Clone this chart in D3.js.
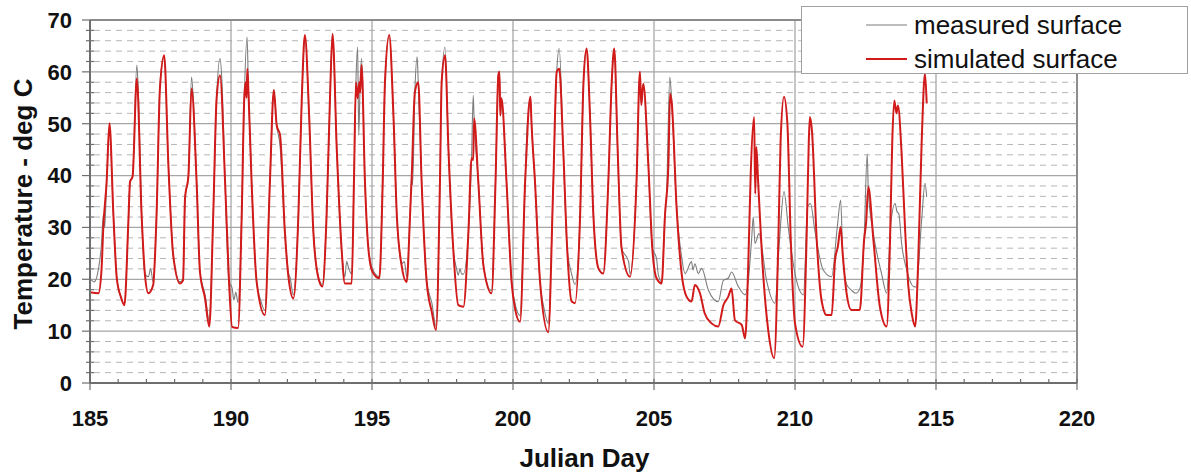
<!DOCTYPE html>
<html>
<head>
<meta charset="utf-8">
<script src="https://cdn.jsdelivr.net/npm/d3@7"></script>
<style>
  body { margin: 0; background: #fff; }
  svg text { font-family: "Liberation Sans", Arial, sans-serif; }
  .tick-label { font-size: 22px; font-weight: bold; fill: #111; }
  .axis-title { font-size: 26px; font-weight: bold; fill: #111; }
  .legend-text { font-size: 26px; fill: #111; }
</style>
</head>
<body>
<script>
// x ticks, y ticks and legend labels
var xTicks = [185, 190, 195, 200, 205, 210, 215, 220];
var yTicks = [0, 10, 20, 30, 40, 50, 60, 70];
var seriesNames = ["measured surface", "simulated surface"];

// measured surface temperature [julian day, deg C]
var measured = [
  [185.00,20.2],[185.15,19.5],[185.30,22],[185.41,27],[185.47,32.4],[185.52,30],[185.59,38.8],[185.69,49.5],
  [185.83,32.4],[185.95,20.2],[186.10,16.5],[186.22,15.2],[186.36,31],[186.42,38.8],[186.51,39.8],[186.66,61.3],
  [186.70,58],[186.83,32.4],[186.95,21],[187.07,20.5],[187.15,22],[187.24,19.5],[187.36,32.4],[187.48,57.5],
  [187.63,63],[187.78,42],[187.95,24.7],[188.19,19.5],[188.30,20],[188.37,35.6],[188.49,40],[188.60,59],
  [188.66,55],[188.78,38.8],[188.90,21.4],[189.08,17],[189.23,12],[189.37,32.4],[189.49,54.9],[189.61,62.6],
  [189.68,58],[189.79,38.8],[189.93,19.5],[190.04,18.3],[190.10,16],[190.17,17.5],[190.25,15.5],[190.38,32.4],
  [190.47,54.9],[190.57,66.7],[190.62,56],[190.73,38.8],[190.91,19.5],[191.05,16],[191.20,14],[191.38,38.8],
  [191.52,56.5],[191.62,49.7],[191.74,45.7],[191.91,29.2],[192.03,21.5],[192.10,20.2],[192.21,17],[192.39,32.4],
  [192.51,54.9],[192.62,67],[192.77,51.6],[192.92,29.2],[193.10,20.5],[193.24,19],[193.39,32.4],[193.51,54.9],
  [193.60,67.5],[193.75,45.2],[193.92,26],[194.04,20.5],[194.10,23.4],[194.18,22],[194.28,21],[194.36,38.8],
  [194.43,58],[194.49,64.8],[194.53,47.8],[194.58,58],[194.63,62.6],[194.75,38.8],[194.87,26],[195.02,22],
  [195.26,20.5],[195.38,38.8],[195.46,58],[195.61,67],[195.76,51.6],[195.88,32.4],[196.05,23],[196.15,23.4],
  [196.23,20.5],[196.35,32.4],[196.41,40],[196.44,38.2],[196.52,56.1],[196.60,62.9],[196.64,58],[196.76,38.8],
  [196.94,19.5],[197.12,15.5],[197.27,11],[197.41,38.8],[197.47,58],[197.59,64.8],[197.71,45.2],[197.88,26],
  [198.00,22],[198.06,20.8],[198.12,22],[198.18,21],[198.24,21],[198.42,29.2],[198.53,43.3],[198.59,55.5],
  [198.62,51],[198.77,38.8],[198.95,22.7],[199.24,17.8],[199.38,38.8],[199.48,59.3],[199.52,60],[199.55,51.6],
  [199.59,54.9],[199.77,38.8],[199.95,19.5],[200.07,15.4],[200.25,13],[200.43,38.8],[200.50,49],[200.54,51.6],
  [200.62,55.2],[200.65,51],[200.78,38.8],[200.96,19.5],[201.10,14.4],[201.25,11.5],[201.43,38.8],[201.55,60],
  [201.64,64.5],[201.78,45.2],[201.92,26],[202.08,21],[202.20,19],[202.38,32.4],[202.50,58],[202.61,64.5],
  [202.73,51.6],[202.85,32.4],[203.03,22.1],[203.20,21.1],[203.38,38.8],[203.50,58],[203.59,64.5],[203.71,45.2],
  [203.85,26],[204.10,23.4],[204.15,21],[204.38,38.8],[204.50,60],[204.55,53.6],[204.62,57.7],[204.80,42],
  [204.94,26],[205.09,24],[205.15,21],[205.27,19.5],[205.39,32.4],[205.45,36.9],[205.56,59],[205.63,54],
  [205.80,34],[205.98,24.3],[206.10,21.1],[206.33,23.4],[206.38,21.8],[206.45,23],[206.57,21.1],[206.69,22.1],
  [206.93,17.9],[207.28,15.7],[207.46,19.8],[207.63,20.2],[207.75,21.4],[207.99,18.6],[208.23,17],[208.35,20],
  [208.46,27.6],[208.52,32],[208.58,26.9],[208.72,28.8],[208.99,19.8],[209.29,15.4],[209.45,27.6],[209.61,36.9],
  [209.76,30.1],[210.00,21.1],[210.30,17],[210.45,34],[210.55,34.6],[210.70,29.5],[211.00,21.8],[211.30,20.5],
  [211.50,30.1],[211.62,35.3],[211.69,25],[211.83,19],[212.00,17.9],[212.15,17.3],[212.30,18.2],[212.45,27.6],
  [212.56,44.2],[212.60,37],[212.78,28.8],[213.07,21.1],[213.25,17.3],[213.40,30.8],[213.55,34.6],[213.62,33],
  [213.68,32.7],[213.78,26.9],[213.96,21.8],[214.20,18.6],[214.30,18.5],[214.49,31.4],[214.61,38.5],[214.67,35.9]
];

// simulated surface temperature [julian day, deg C]
var simulated = [
  [185.00,17.5],[185.30,17.3],[185.41,22],[185.47,29.8],[185.59,38.8],[185.69,50.1],[185.83,32.4],[185.95,20.2],
  [186.10,16.5],[186.22,15.0],[186.36,31],[186.42,38.8],[186.51,39.8],[186.66,58.7],[186.83,32.4],[186.95,20.8],
  [187.07,17.3],[187.24,18.9],[187.36,32.4],[187.48,56.8],[187.63,63.2],[187.78,42],[187.95,24.7],[188.19,19.2],
  [188.30,19.8],[188.37,35.6],[188.49,40],[188.60,56.8],[188.78,38.8],[188.90,21.4],[189.08,16.3],[189.23,10.9],
  [189.37,32.4],[189.49,54.9],[189.61,59.3],[189.79,38.8],[189.93,19.5],[190.04,10.8],[190.25,10.6],[190.38,32.4],
  [190.47,54.9],[190.52,58],[190.55,55],[190.58,60.6],[190.62,56],[190.73,38.8],[190.91,19.5],[191.20,13.1],
  [191.38,38.8],[191.52,56.5],[191.62,49.7],[191.74,47.8],[191.91,29.2],[192.03,20.8],[192.21,16.3],[192.39,32.4],
  [192.51,54.9],[192.62,67.1],[192.77,51.6],[192.92,29.2],[193.10,20.2],[193.24,18.6],[193.39,32.4],[193.51,54.9],
  [193.60,67.3],[193.75,45.2],[193.92,26],[194.04,19.2],[194.28,19.2],[194.36,38.8],[194.43,58],[194.49,54.9],
  [194.55,58],[194.58,56],[194.63,61.3],[194.75,38.8],[194.87,26],[195.02,21.4],[195.26,20.2],[195.38,38.8],
  [195.46,58],[195.61,67.1],[195.76,51.6],[195.88,32.4],[196.05,22.7],[196.23,19.5],[196.35,32.4],[196.41,40],
  [196.52,56.1],[196.64,58],[196.76,38.8],[196.94,19.5],[197.12,13.7],[197.27,10.2],[197.41,38.8],[197.47,58],
  [197.59,63.2],[197.71,45.2],[197.88,26],[198.06,15],[198.24,14.7],[198.42,29.2],[198.53,43.3],[198.59,43],
  [198.62,51],[198.77,38.8],[198.95,22.7],[199.24,17.3],[199.38,38.8],[199.48,59.3],[199.52,60],[199.55,51.6],
  [199.59,54.9],[199.77,38.8],[199.95,19.5],[200.07,14.4],[200.25,11.8],[200.43,38.8],[200.50,47],[200.54,51.6],
  [200.62,55.2],[200.65,51],[200.78,38.8],[200.96,19.5],[201.25,9.8],[201.43,38.8],[201.55,60],[201.64,60.6],
  [201.78,45.2],[201.92,26],[202.08,15.7],[202.20,15.4],[202.38,32.4],[202.50,58],[202.61,64.5],[202.73,51.6],
  [202.85,32.4],[203.03,22.1],[203.20,21.1],[203.38,38.8],[203.50,58],[203.59,64.5],[203.71,45.2],[203.85,26],
  [204.15,20.5],[204.38,38.8],[204.50,60],[204.55,53.6],[204.62,57.7],[204.80,42],[204.94,26],[205.09,20.2],
  [205.27,19.2],[205.39,32.4],[205.51,42],[205.57,55.8],[205.63,54],[205.80,34],[205.98,21.1],[206.16,16.6],
  [206.33,15.7],[206.45,18.9],[206.63,17.3],[206.80,13.4],[207.04,11.5],[207.28,10.9],[207.46,15],[207.63,16.6],
  [207.75,18.2],[207.87,12.1],[208.11,11.2],[208.23,8.6],[208.35,24.3],[208.43,40.4],[208.55,51.3],[208.59,36.5],
  [208.63,45.5],[208.69,39.1],[208.87,21.1],[209.05,10.2],[209.26,4.8],[209.41,27.6],[209.49,46.8],[209.61,55.2],
  [209.73,50],[209.85,27.6],[210.00,11.5],[210.27,7],[210.41,27.6],[210.49,46.8],[210.53,51.3],[210.60,48.7],
  [210.77,27.6],[210.94,16],[211.12,13.1],[211.30,13.1],[211.42,23.7],[211.52,26.3],[211.62,30.1],[211.69,25],
  [211.83,17.3],[212.00,14.1],[212.30,14.1],[212.45,27.6],[212.52,30.8],[212.60,37.8],[212.78,27.6],[213.01,14.7],
  [213.25,10.9],[213.37,27.6],[213.45,46.8],[213.52,54.5],[213.60,52],[213.65,53.5],[213.78,44.3],[213.90,30.1],
  [214.02,18.6],[214.14,13.4],[214.26,10.9],[214.37,23.7],[214.49,46.2],[214.61,59.7],[214.67,53.9]
];

function display() {

    var W = 1191, H = 476;
    var left = 90, right = 1077, top = 20, bottom = 383;

    var svg = d3.select("body")
        .append("svg")
        .attr("width", W)
        .attr("height", H);

    var x = d3.scaleLinear().domain([185, 220]).range([left, right]);
    var y = d3.scaleLinear().domain([0, 70]).range([bottom, top]);

    var grid = svg.append("g").attr("class", "grid");

    // dashed minor horizontal lines every 2 deg
    var minorY = d3.range(2, 70, 2).filter(function(v) { return v % 10 !== 0; });
    grid.selectAll(".minorY")
        .data(minorY)
        .enter().append("line")
        .attr("x1", left + 4)
        .attr("x2", right - 2)
        .attr("y1", function(d) { return y(d); })
        .attr("y2", function(d) { return y(d); })
        .attr("stroke", "#b5b5b5")
        .attr("stroke-width", 1)
        .attr("stroke-dasharray", "6,5");

    // solid major horizontal lines
    grid.selectAll(".majorY")
        .data(yTicks.filter(function(v) { return v > 0 && v < 70; }))
        .enter().append("line")
        .attr("x1", left)
        .attr("x2", right)
        .attr("y1", function(d) { return y(d); })
        .attr("y2", function(d) { return y(d); })
        .attr("stroke", "#a6a6a6")
        .attr("stroke-width", 1.2);

    // vertical lines every 5 days
    grid.selectAll(".majorX")
        .data(xTicks.filter(function(v) { return v > 185 && v < 220; }))
        .enter().append("line")
        .attr("x1", function(d) { return x(d); })
        .attr("x2", function(d) { return x(d); })
        .attr("y1", top)
        .attr("y2", bottom)
        .attr("stroke", "#a0a0a0")
        .attr("stroke-width", 1.2);

    // plot frame (top and right)
    svg.append("path")
        .attr("d", "M" + left + "," + top + "H" + right + "V" + bottom)
        .attr("fill", "none")
        .attr("stroke", "#8c8c8c")
        .attr("stroke-width", 2);

    // data lines
    var line = d3.line()
        .x(function(d) { return x(d[0]); })
        .y(function(d) { return y(d[1]); })
        .curve(d3.curveMonotoneX);

    svg.append("path")
        .datum(measured)
        .attr("d", line)
        .attr("fill", "none")
        .attr("stroke", "#7d7d7d")
        .attr("stroke-width", 1.1);

    svg.append("path")
        .datum(simulated)
        .attr("d", line)
        .attr("fill", "none")
        .attr("stroke", "#d11a1a")
        .attr("stroke-width", 2);

    // axes lines
    var axisCol = "#6e6e6e";
    svg.append("line")
        .attr("x1", left).attr("x2", left)
        .attr("y1", top).attr("y2", bottom)
        .attr("stroke", axisCol).attr("stroke-width", 2);
    svg.append("line")
        .attr("x1", left).attr("x2", right)
        .attr("y1", bottom).attr("y2", bottom)
        .attr("stroke", axisCol).attr("stroke-width", 2);

    // y ticks: minor every 2, major every 10
    svg.append("g").selectAll(".yMinor")
        .data(d3.range(0, 72, 2))
        .enter().append("line")
        .attr("x1", function(d) { return d % 10 === 0 ? left - 8 : left - 4; })
        .attr("x2", function(d) { return d % 10 === 0 ? left : left + 4; })
        .attr("y1", function(d) { return y(d); })
        .attr("y2", function(d) { return y(d); })
        .attr("stroke", axisCol).attr("stroke-width", 1.2);

    // x ticks: minor every day inside, major every 5 outside
    svg.append("g").selectAll(".xMinor")
        .data(d3.range(185, 221, 1))
        .enter().append("line")
        .attr("x1", function(d) { return x(d); })
        .attr("x2", function(d) { return x(d); })
        .attr("y1", function(d) { return d % 5 === 0 ? bottom + 7 : bottom - 4; })
        .attr("y2", function(d) { return d % 5 === 0 ? bottom - 4 : bottom; })
        .attr("stroke", axisCol).attr("stroke-width", 1.2);

    // tick labels
    svg.append("g").selectAll(".yLabel")
        .data(yTicks)
        .enter().append("text")
        .attr("class", "tick-label")
        .attr("x", left - 18)
        .attr("y", function(d) { return y(d); })
        .attr("dy", "0.36em")
        .attr("text-anchor", "end")
        .text(function(d) { return d; });

    svg.append("g").selectAll(".xLabel")
        .data(xTicks)
        .enter().append("text")
        .attr("class", "tick-label")
        .attr("x", function(d) { return x(d); })
        .attr("y", 426)
        .attr("text-anchor", "middle")
        .text(function(d) { return d; });

    // axis titles
    svg.append("text")
        .attr("class", "axis-title")
        .attr("x", (left + right) / 2 + 1)
        .attr("y", 467)
        .attr("text-anchor", "middle")
        .text("Julian Day");

    svg.append("text")
        .attr("class", "axis-title")
        .attr("transform", "translate(32,204) rotate(-90)")
        .attr("text-anchor", "middle")
        .text("Temperature - deg C");

    // legend
    var legend = svg.append("g").attr("class", "legend");
    legend.append("rect")
        .attr("x", 801.5).attr("y", 6.5)
        .attr("width", 386).attr("height", 67)
        .attr("fill", "#fff")
        .attr("stroke", "#a0a0a0")
        .attr("stroke-width", 1);

    var legendCols = ["#7d7d7d", "#d11a1a"];
    var legendY = [25, 59];
    seriesNames.forEach(function(name, i) {
        legend.append("line")
            .attr("x1", 866).attr("x2", 907)
            .attr("y1", legendY[i]).attr("y2", legendY[i])
            .attr("stroke", legendCols[i])
            .attr("stroke-width", i === 0 ? 1.2 : 2);
        legend.append("text")
            .attr("class", "legend-text")
            .attr("x", 914)
            .attr("y", legendY[i] + 9)
            .text(name);
    });
}

document.addEventListener("DOMContentLoaded", function() {
    display();
});
</script>
</body>
</html>
